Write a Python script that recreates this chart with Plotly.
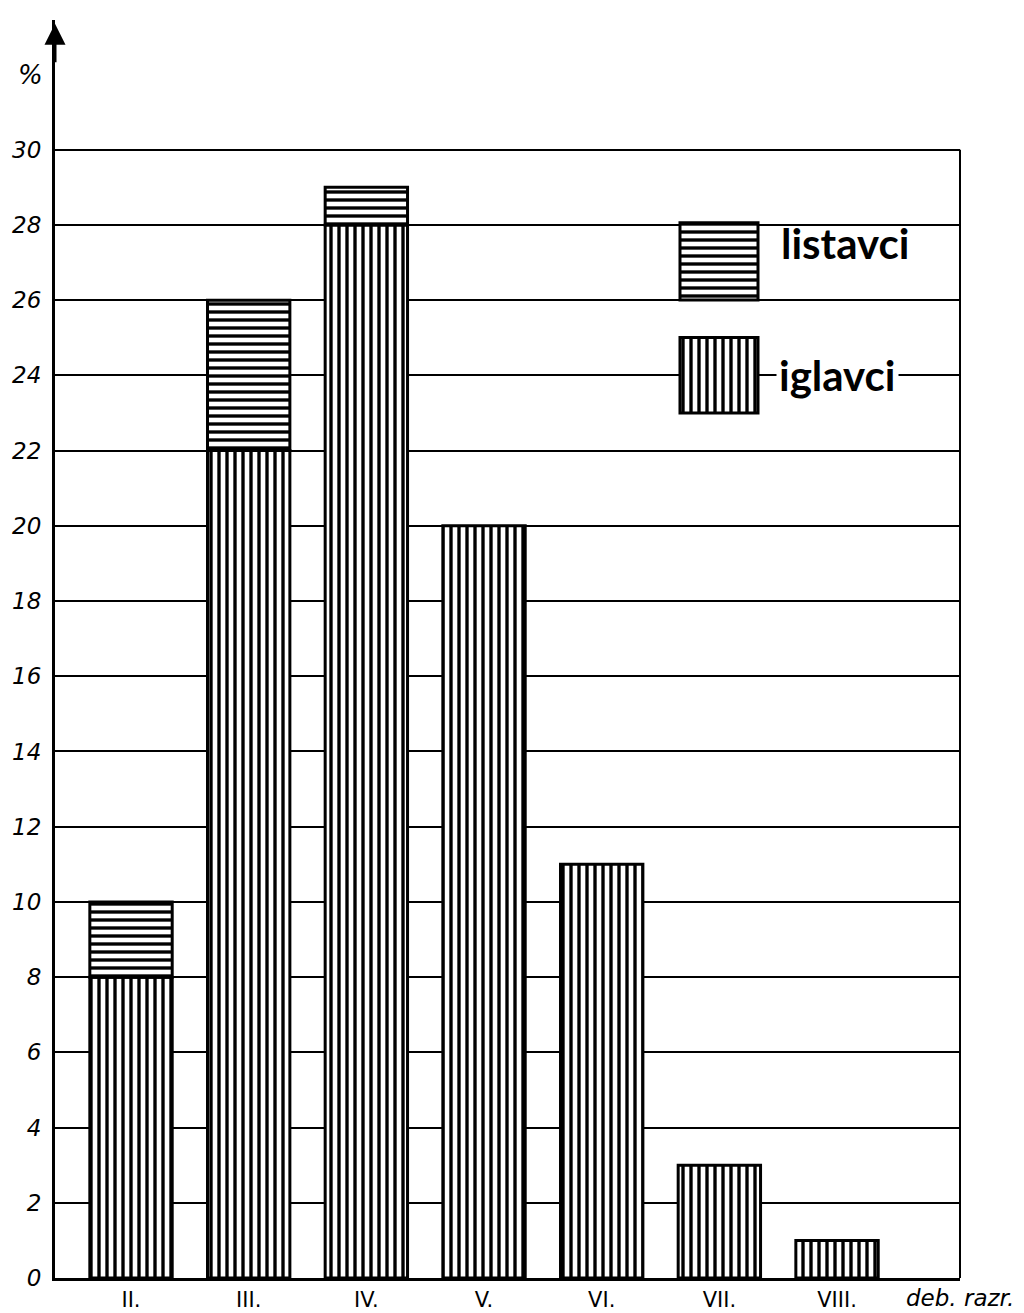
import plotly.graph_objects as go

categories = ["II.", "III.", "IV.", "V.", "VI.", "VII.", "VIII."]
iglavci = [8, 22, 28, 20, 11, 3, 1]
listavci = [2, 4, 1, 0, 0, 0, 0]
y_ticks = list(range(0, 31, 2))

xpos = list(range(len(categories)))
W, H = 1024, 1313
ML, MR, MT, MB = 55, 64, 20, 35
YMAX = 33.45
XR = [-0.646, 7.045]

pat_v = dict(shape="|", size=8, solidity=0.42, fgcolor="black", fgopacity=1, bgcolor="white", fillmode="overlay")
pat_h = dict(shape="-", size=8, solidity=0.42, fgcolor="black", fgopacity=1, bgcolor="white", fillmode="overlay")

fig = go.Figure()
fig.add_trace(go.Bar(x=xpos, y=iglavci, width=0.70, name="iglavci",
                     marker=dict(color="white", pattern=pat_v, line=dict(color="black", width=3))))
fig.add_trace(go.Bar(x=xpos, y=[v if v > 0 else None for v in listavci], base=iglavci, width=0.70,
                     name="listavci",
                     marker=dict(color="white", pattern=pat_h, line=dict(color="black", width=3))))

# legend swatches on an overlay axis in fractional units
fig.add_trace(go.Bar(x=[0.7337], y=[0.0614], base=[0.7774], width=[0.0862], xaxis="x2", yaxis="y2",
                     marker=dict(color="white", pattern=pat_h, line=dict(color="black", width=3)),
                     hoverinfo="skip"))
fig.add_trace(go.Bar(x=[0.7337], y=[0.0600], base=[0.6876], width=[0.0862], xaxis="x2", yaxis="y2",
                     marker=dict(color="white", pattern=pat_v, line=dict(color="black", width=3)),
                     hoverinfo="skip"))

fig.update_layout(
    width=W, height=H, showlegend=False, barmode="overlay",
    margin=dict(l=ML, r=MR, t=MT, b=MB, autoexpand=False),
    paper_bgcolor="white", plot_bgcolor="white",
    font=dict(family="DejaVu Sans", color="black"),
    xaxis=dict(range=XR, tickvals=xpos, ticktext=categories, showgrid=False, zeroline=False,
               showline=True, linecolor="black", linewidth=3, ticks="", automargin=False,
               tickfont=dict(size=21, family="DejaVu Sans"), ticklabelstandoff=1),
    yaxis=dict(range=[0, YMAX], tickvals=y_ticks, ticktext=[str(v) for v in y_ticks],
               showgrid=True, gridcolor="black", gridwidth=1.5, zeroline=False, automargin=False,
               showline=True, linecolor="black", linewidth=3, ticks="",
               tickfont=dict(size=23, family="DejaVu Sans", style="italic"), ticklabelstandoff=6),
    xaxis2=dict(range=[0, 1], overlaying="x", visible=False),
    yaxis2=dict(range=[0, 1], overlaying="y", visible=False),
)

# right border
fig.add_shape(type="line", xref="paper", x0=1, x1=1, yref="y", y0=0, y1=30,
              line=dict(color="black", width=2))
# arrow at top of y axis
fig.add_annotation(xref="paper", x=0, yref="y", y=YMAX - 0.1, ax=0, ay=40, text="",
                   showarrow=True, arrowhead=2, arrowsize=1.4, arrowwidth=3, arrowcolor="black")
# % label
fig.add_annotation(xref="paper", x=0, xanchor="right", xshift=-10, yref="y", y=32, text="%",
                   showarrow=False, font=dict(size=26, style="italic"))
# axis title
fig.add_annotation(xref="paper", x=1.0, xanchor="center", yref="paper", y=0, yanchor="top", yshift=-5,
                   text="deb. razr.", showarrow=False, font=dict(size=23, style="italic"))
# legend texts
fig.add_annotation(xref="paper", x=0.800, xanchor="left", yref="paper", y=0.823, yanchor="middle",
                   text="<b>listavci</b>", showarrow=False, font=dict(size=42, family="Lato"))
fig.add_annotation(xref="paper", x=0.797, xanchor="left", yref="paper", y=0.7175, yanchor="middle",
                   text="<b>iglavci</b>", showarrow=False, font=dict(size=42, family="Lato"),
                   bgcolor="white", borderpad=2)

fig.write_html("out.html", config={"displayModeBar": False},
               post_script="document.body.style.margin='0';")
